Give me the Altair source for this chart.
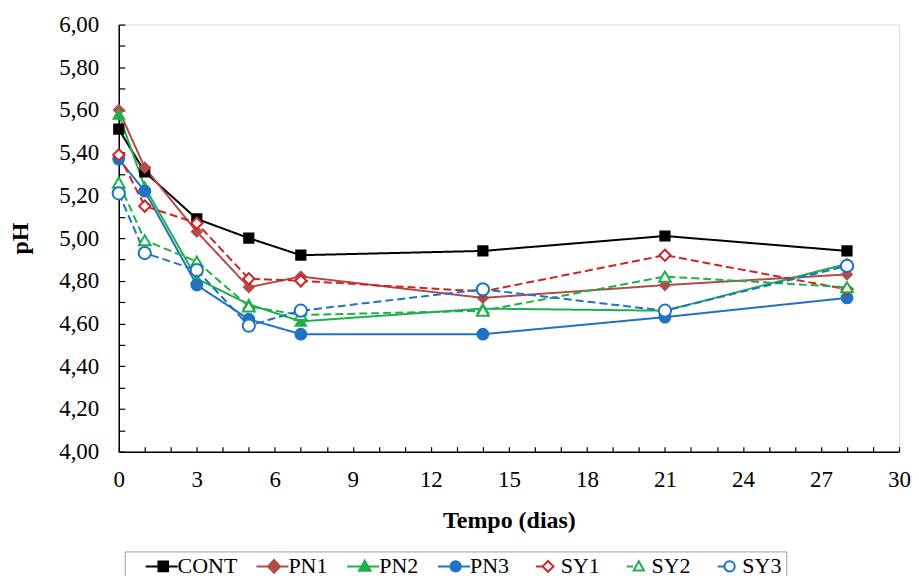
import altair as alt
import pandas as pd

days = [0, 1, 3, 5, 7, 14, 21, 28]
series = ["CONT", "PN1", "PN2", "PN3", "SY1", "SY2", "SY3"]

cont = [5.51, 5.31, 5.09, 5.00, 4.92, 4.94, 5.01, 4.94]
pn1 = [5.60, 5.33, 5.03, 4.77, 4.82, 4.72, 4.78, 4.83]
pn2 = [5.58, 5.24, 4.81, 4.69, 4.61, 4.67, 4.66, 4.88]
pn3 = [5.37, 5.22, 4.78, 4.62, 4.55, 4.55, 4.63, 4.72]
sy1 = [5.39, 5.15, 5.07, 4.81, 4.80, 4.75, 4.92, 4.76]
sy2 = [5.26, 4.99, 4.89, 4.68, 4.64, 4.66, 4.82, 4.77]
sy3 = [5.21, 4.93, 4.85, 4.59, 4.66, 4.76, 4.66, 4.87]

x_labels = [0, 3, 6, 9, 12, 15, 18, 21, 24, 27, 30]
x_minor = list(range(0, 31))
y_labels = [4.0, 4.2, 4.4, 4.6, 4.8, 5.0, 5.2, 5.4, 5.6, 5.8, 6.0]
y_minor = [4.0, 4.1, 4.2, 4.3, 4.4, 4.5, 4.6, 4.7, 4.8, 4.9, 5.0,
           5.1, 5.2, 5.3, 5.4, 5.5, 5.6, 5.7, 5.8, 5.9, 6.0]

vals = {"CONT": cont, "PN1": pn1, "PN2": pn2, "PN3": pn3,
        "SY1": sy1, "SY2": sy2, "SY3": sy3}
rows = [{"dia": d, "pH": v, "serie": s}
        for s in series for d, v in zip(days, vals[s])]
df = pd.DataFrame(rows)

colors = ["#000000", "#b24c49", "#1fb04b", "#1f72c4", "#d02323", "#1fb04b", "#1f72c4"]
fills = ["#000000", "#b24c49", "#1fb04b", "#1f72c4", "#ffffff", "#ffffff", "#ffffff"]
shapes = ["square", "diamond", "triangle-up", "circle", "diamond", "triangle-up", "circle"]
sizes = [85, 150, 140, 120, 150, 160, 170]
dashes = [[1, 0], [1, 0], [1, 0], [1, 0], [8, 4], [8, 4], [8, 4]]

leg_paths = [
    "M-2,0H2M-0.4,-0.6H0.8V0.6H-0.4Z",
    "M-2,0H2M0.2,-0.8L0.96,0L0.2,0.8L-0.56,0Z",
    "M-2,0H2M0.2,-0.72L0.92,0.56H-0.52Z",
    "M-2,0H2M0.84,0A0.64,0.64,0,1,1,-0.44,0A0.64,0.64,0,1,1,0.84,0Z",
    "M-1.1,0H-0.3M0.4,-0.68L1.08,0L0.4,0.68L-0.28,0Z",
    "M-1.1,0H-0.3M0.4,-0.64L1.04,0.52H-0.24Z",
    "M-1.1,0H-0.3M1.04,0A0.64,0.64,0,1,1,-0.24,0A0.64,0.64,0,1,1,1.04,0Z",
]

W, H = 782, 428
FONT = "Liberation Serif"

xscale = alt.Scale(domain=[0, 30], nice=False)
yscale = alt.Scale(domain=[4, 6], nice=False, zero=False)

base = alt.Chart(df)

lines = base.mark_line(strokeWidth=2).encode(
    x=alt.X("dia:Q", scale=xscale,
            axis=alt.Axis(values=x_labels, ticks=False, grid=False, labelFlush=False,
                          domainColor="black", domainWidth=1.5,
                          labelFont=FONT, labelFontSize=23, labelColor="black",
                          labelPadding=17, title="Tempo (dias)", titleFont=FONT,
                          titleFontSize=24, titleFontWeight="bold", titleColor="black",
                          titlePadding=17)),
    y=alt.Y("pH:Q", scale=yscale,
            axis=alt.Axis(values=y_labels, ticks=False, grid=False,
                          labelExpr="replace(format(datum.value, '.2f'), '.', ',')",
                          domainColor="black", domainWidth=1.5,
                          labelFont=FONT, labelFontSize=23, labelColor="black",
                          labelPadding=20, title="pH", titleFont=FONT,
                          titleFontSize=24, titleFontWeight="bold", titleColor="black",
                          titlePadding=26)),
    color=alt.Color("serie:N", scale=alt.Scale(domain=series, range=colors), legend=None),
    strokeDash=alt.StrokeDash("serie:N", scale=alt.Scale(domain=series, range=dashes), legend=None),
    detail="serie:N",
)

points = base.mark_point(strokeWidth=2, opacity=1).encode(
    x=alt.X("dia:Q", scale=xscale, axis=None),
    y=alt.Y("pH:Q", scale=yscale, axis=None),
    shape=alt.Shape("serie:N", scale=alt.Scale(domain=series, range=shapes), legend=None),
    stroke=alt.Stroke("serie:N", scale=alt.Scale(domain=series, range=colors), legend=None),
    fill=alt.Fill("serie:N", scale=alt.Scale(domain=series, range=fills), legend=None),
    size=alt.Size("serie:N", scale=alt.Scale(domain=series, range=sizes), legend=None),
)

ticks = base.mark_point(opacity=0).encode(
    x=alt.X("dia:Q", scale=xscale,
            axis=alt.Axis(orient="top", offset=-H, values=x_minor, labels=False,
                          domain=False, grid=False, tickSize=5, tickColor="black",
                          tickWidth=1.2, title=None)),
    y=alt.Y("pH:Q", scale=yscale,
            axis=alt.Axis(orient="right", offset=-W, values=y_minor, labels=False,
                          domain=False, grid=False, tickSize=6, tickColor="black",
                          tickWidth=1.2, title=None)),
)

leg_def = dict(orient="none", legendX=6, legendY=528, direction="horizontal",
               title=None, labelFont=FONT, labelFontSize=22, labelColor="black",
               symbolSize=256, symbolStrokeWidth=2, labelOffset=5,
               columnPadding=2, padding=4, strokeColor="#a0a0a0",
               fillColor="white", symbolOffset=22)

legend_layer = base.transform_filter("false").mark_point(strokeWidth=2, opacity=1).encode(
    x=alt.X("dia:Q", scale=xscale, axis=None),
    y=alt.Y("pH:Q", scale=yscale, axis=None),
    shape=alt.Shape("serie:N", scale=alt.Scale(domain=series, range=leg_paths),
                    legend=alt.Legend(**leg_def)),
    stroke=alt.Stroke("serie:N", scale=alt.Scale(domain=series, range=colors),
                      legend=alt.Legend(**leg_def)),
    fill=alt.Fill("serie:N", scale=alt.Scale(domain=series, range=fills),
                  legend=alt.Legend(**leg_def)),
)

chart = alt.layer(lines, points, ticks, legend_layer).resolve_scale(
    shape="independent", stroke="independent", fill="independent"
).resolve_axis(
    x="independent", y="independent"
).resolve_legend(
    shape="independent", stroke="independent", fill="independent"
).properties(
    width=W, height=H,
    autosize=alt.AutoSizeParams(type="none"),
    padding={"left": 111, "top": 16, "right": 12, "bottom": 124},
).configure_view(stroke=None).configure(background="white")

chart.save("out.html", embed_options={"renderer": "svg", "actions": False})
